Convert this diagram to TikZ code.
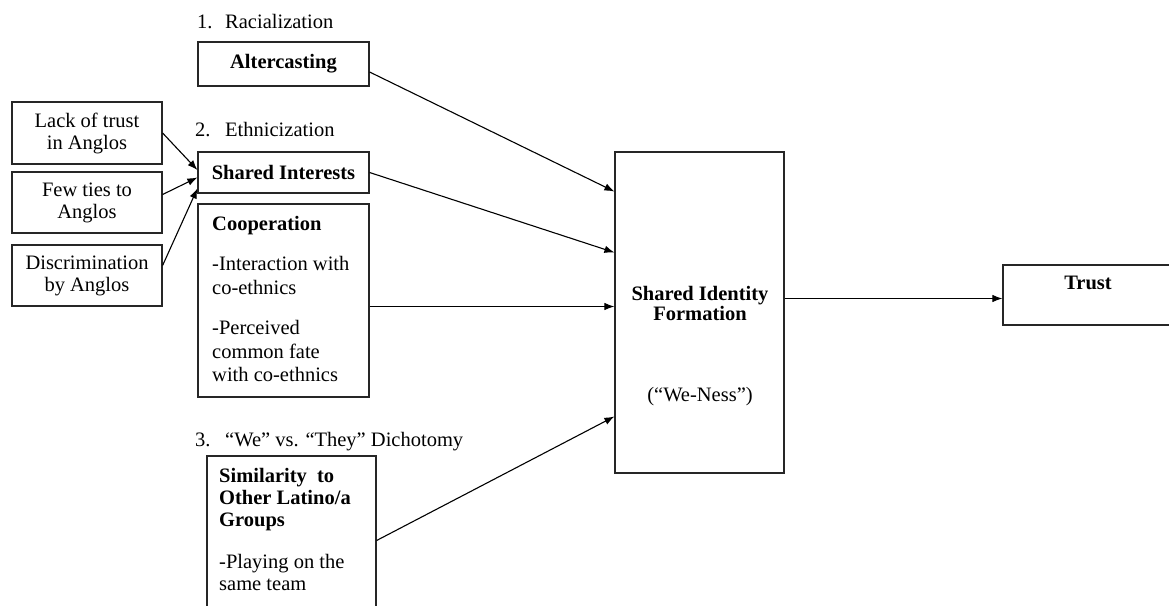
\documentclass[tikz,border=0pt]{standalone}
\usepackage{fontspec}
\setmainfont{Liberation Serif}
\usetikzlibrary{arrows.meta}

\tikzset{
	box/.style={draw=black!85, line width=1.2pt, inner sep=0pt, align=center},
	txt/.style={inner sep=0pt, align=left},
}

\begin{document}
\begin{tikzpicture}[x=1pt, y=-1pt, >={Latex[length=10pt, width=7.5pt]},
		font=\fontsize{20.5}{22}\selectfont]
	\useasboundingbox (0, 0) rectangle (1169, 605);
	\clip (0, 0) rectangle (1169, 605);

	% the three headings
	\node[txt, anchor=base west] (head1) at (197, 28.5) {\makebox[28pt][l]{1.}Racialization};
	\node[txt, anchor=base west] (head2) at (195, 136.5) {\makebox[30pt][l]{2.}Ethnicization};
	\node[txt, anchor=base west] (head3) at (195, 446.5) {\makebox[30pt][l]{3.}“We” vs. “They” Dichotomy};

	% left column
	\node[box, minimum width=150pt, minimum height=62pt] (lack) at (87, 133) {Lack of trust\\in Anglos};
	\node[box, minimum width=150pt, minimum height=61pt] (few) at (87, 202.5) {Few ties to\\Anglos};
	\node[box, minimum width=150pt, minimum height=61pt] (discr) at (87, 275.5) {Discrimination\\by Anglos};

	% middle column
	\node[box, minimum width=171pt, minimum height=44pt] (alter) at (283.5, 64) {\textbf{Altercasting}};
	\node[box, minimum width=171pt, minimum height=41pt] (shared) at (283.5, 172.5) {\textbf{Shared Interests}};

	\node[box, minimum width=171pt, minimum height=193pt] (coop) at (283.5, 300.5) {};
	\node[txt, anchor=north west, font=\fontsize{20.5}{23.5}\selectfont] (cooptext) at (212, 216)
		{\textbf{Cooperation}\\[17pt]-Interaction with\\co-ethnics\\[17pt]-Perceived\\common fate\\with co-ethnics};

	\node[box, minimum width=169pt, minimum height=169pt] (simil) at (291.5, 540.5) {};
	\node[txt, anchor=north west] (similtext) at (219, 468)
		{\textbf{Similarity~ to}\\\textbf{Other Latino/a}\\\textbf{Groups}\\[20pt]-Playing on the\\same team};

	% right part
	\node[box, minimum width=169pt, minimum height=321pt] (sif) at (699.5, 312.5) {};
	\node[inner sep=0pt, align=center, font=\bfseries\fontsize{20.5}{20}\selectfont] (siftext) at (700, 303) {Shared Identity\\Formation};
	\node[inner sep=0pt] (weness) at (700, 397) {(“We-Ness”)};

	\node[box, minimum width=170pt, minimum height=60pt] (trust) at (1088, 295) {};
	\node[inner sep=0pt] (trusttext) at (1088, 283) {\textbf{Trust}};

	% arrows
	\draw[line width=1.1pt, ->] (lack.east) -- ([yshift=2.5pt]shared.west);
	\draw[line width=1.1pt, ->] ([yshift=8pt]few.east) -- ([yshift=-5pt]shared.west);
	\draw[line width=1.1pt, ->] ([yshift=10pt]discr.east) -- ([yshift=-16pt]shared.west);

	\draw[line width=1.1pt, ->] ([yshift=-8pt]alter.east) -- ([yshift=121pt]sif.west);
	\draw[line width=1.1pt, ->] (shared.east) -- ([yshift=60pt]sif.west);
	\draw[line width=1.1pt, ->] ([yshift=-6pt]coop.east) -- ([yshift=-6pt]coop.east -| sif.west);
	\draw[line width=1.1pt, ->] (simil.east) -- ([yshift=-104pt]sif.west);

	\draw[line width=1.1pt, ->] ([yshift=14pt]sif.east) -- ([yshift=14pt]sif.east -| trust.west);

\end{tikzpicture}
\end{document}
